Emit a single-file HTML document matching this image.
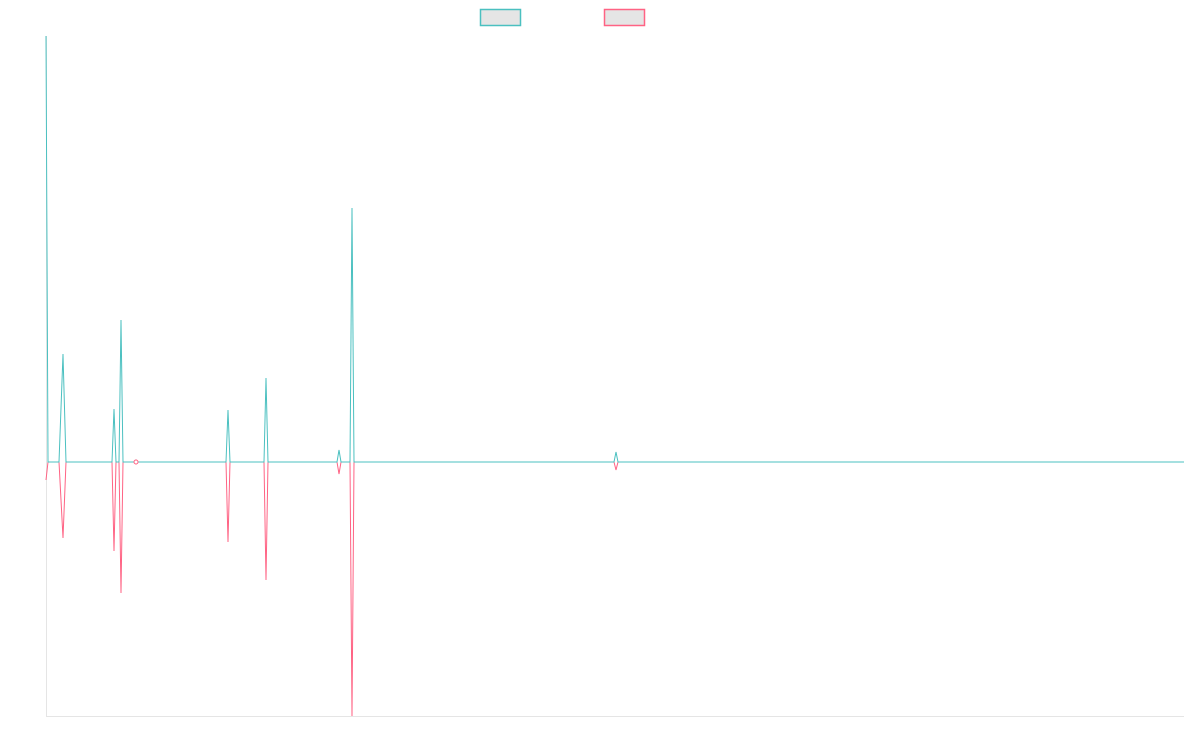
<!DOCTYPE html>
<html><head><style>body{margin:0;background:#fff}svg{display:block}</style></head>
<body>
<svg width="1200" height="750" xmlns="http://www.w3.org/2000/svg">
<rect x="480.5" y="9.5" width="40" height="16" fill="#e5e5e5" stroke="#4bc0c0" stroke-width="1.5"/>
<rect x="604.5" y="9.5" width="40" height="16" fill="#e5e5e5" stroke="#ff6384" stroke-width="1.5"/>
<line x1="46.5" y1="36" x2="46.5" y2="716" stroke="#e5e5e5"/>
<line x1="46" y1="716.5" x2="1184" y2="716.5" stroke="#e5e5e5"/>
<polyline fill="none" stroke="#ff6384" stroke-width="1" points="46,480 48,462 59,462 63,538 66,462 112,462 114,551 116,462 119,462 121,593 123,462 134,462 136,464 138,462 226,462 228,542 230,462 264,462 266,580 268,462 337,462 339,474 341,462 350,462 352,716 354,462 614,462 616,470 618,462 1184,462"/>
<polyline fill="none" stroke="#4bc0c0" stroke-width="1" points="46,36 48,462 59,462 63,354 66,462 112,462 114,409 116,462 119,462 121,320 123,462 134,462 136,460 138,462 226,462 228,410 230,462 264,462 266,378 268,462 337,462 339,450 341,462 350,462 352,208 354,462 614,462 616,452 618,462 1184,462"/>
<circle cx="136" cy="462" r="2" fill="#fff" stroke="#ff6384"/>
</svg>
</body></html>
